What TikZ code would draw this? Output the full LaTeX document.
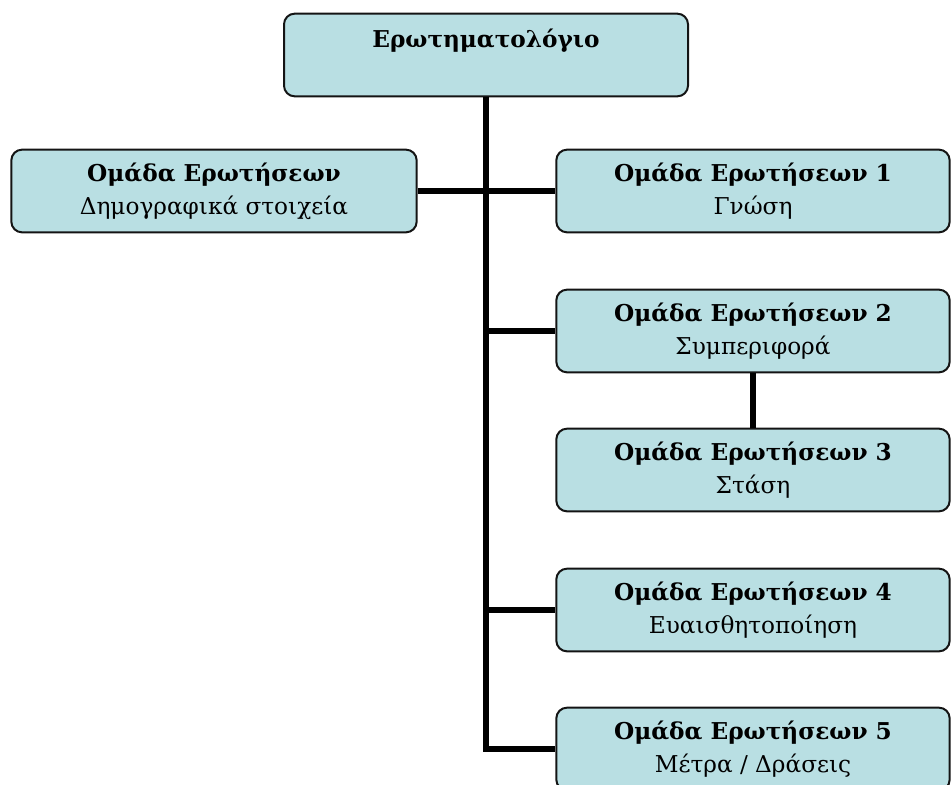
\documentclass[tikz,border=0pt]{standalone}
\usepackage{fontspec}
\setmainfont{DejaVu Serif}
\usetikzlibrary{positioning}

\definecolor{boxfill}{RGB}{185,223,227}

\tikzset{
  grpbox/.style={draw={rgb, 255:red, 20; green, 20; blue, 20}, line width=1.5pt, fill=boxfill,
    rounded corners=8pt, minimum width=295pt, minimum height=62pt, align=center,
    inner sep=2pt, font=\fontsize{17.4}{25}\selectfont},
  link/.style={line width=4.5pt, color=black}
}

\begin{document}
\begin{tikzpicture}[x=0.75pt,y=0.75pt,yscale=-1,xscale=1]
	\useasboundingbox (0,0) rectangle (951,785);
	\clip (0,0) rectangle (951,785);

	% Top box
	\node [grpbox, minimum width=303pt] (top) at (486,55) {};
	\node [anchor=north, font=\fontsize{17.4}{25}\selectfont\bfseries] (toptitle) at (486,24) {Ερωτηματολόγιο};

	% Left box
	\node [grpbox, minimum width=304pt] (demo) at (214,191) {\textbf{Ομάδα Ερωτήσεων}\\Δημογραφικά στοιχεία};

	% Right boxes
	\node [grpbox] (g1) at (753,191) {\textbf{Ομάδα Ερωτήσεων 1}\\Γνώση};
	\node [grpbox] (g2) at (753,331) {\textbf{Ομάδα Ερωτήσεων 2}\\Συμπεριφορά};
	\node [grpbox] (g3) at (753,470) {\textbf{Ομάδα Ερωτήσεων 3}\\Στάση};
	\node [grpbox] (g4) at (753,610) {\textbf{Ομάδα Ερωτήσεων 4}\\Ευαισθητοποίηση};
	\node [grpbox] (g5) at (753,749) {\textbf{Ομάδα Ερωτήσεων 5}\\Μέτρα / Δράσεις};

	% Connectors
	\draw [link] (top.south) -- (top.south |- g5.west);
	\draw [link] (demo.east) -- (g1.west);
	\draw [link] (top.south |- g2.west) -- (g2.west);
	\draw [link] (top.south |- g4.west) -- (g4.west);
	\draw [link] ([xshift=-2.25pt]top.south |- g5.west) -- (g5.west);
	\draw [link] (g2.south) -- (g3.north);
\end{tikzpicture}
\end{document}
